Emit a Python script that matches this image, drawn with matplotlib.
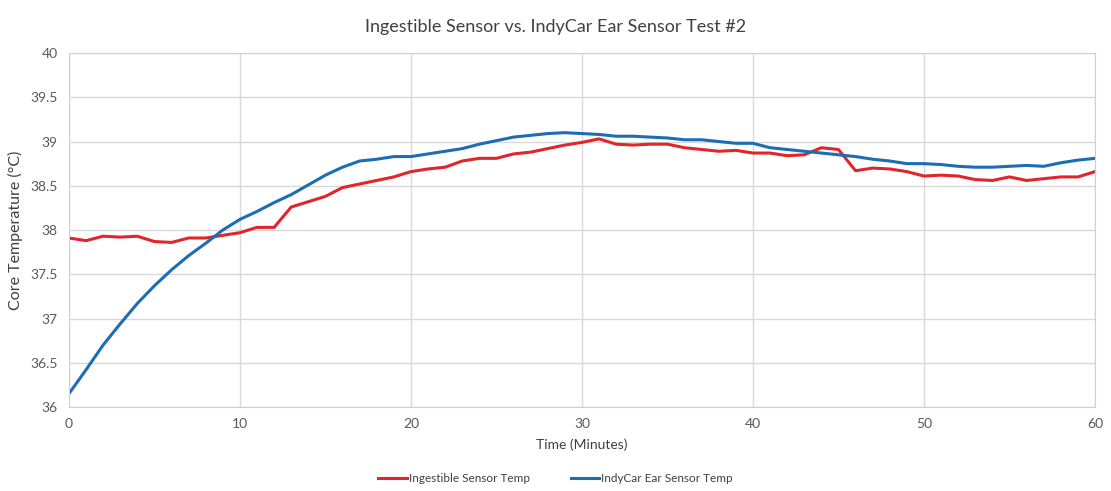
import numpy as np
import matplotlib.pyplot as plt

plt.rcParams['font.family'] = ['Lato', 'DejaVu Sans']

# data, one reading per minute
minutes = np.arange(0, 61)

ingestible = [37.91, 37.88, 37.93, 37.92, 37.93, 37.87, 37.86, 37.91, 37.91, 37.94,
              37.97, 38.03, 38.03, 38.26, 38.32, 38.38, 38.48, 38.52, 38.56, 38.60,
              38.66, 38.69, 38.71, 38.78, 38.81, 38.81, 38.86, 38.88, 38.92, 38.96,
              38.99, 39.03, 38.97, 38.96, 38.97, 38.97, 38.93, 38.91, 38.89, 38.90,
              38.87, 38.87, 38.84, 38.85, 38.93, 38.91, 38.67, 38.70, 38.69, 38.66,
              38.61, 38.62, 38.61, 38.57, 38.56, 38.60, 38.56, 38.58, 38.60, 38.60,
              38.66]

ear = [36.15, 36.42, 36.70, 36.94, 37.17, 37.37, 37.55, 37.71, 37.85, 38.00,
       38.12, 38.21, 38.31, 38.40, 38.51, 38.62, 38.71, 38.78, 38.80, 38.83,
       38.83, 38.86, 38.89, 38.92, 38.97, 39.01, 39.05, 39.07, 39.09, 39.10,
       39.09, 39.08, 39.06, 39.06, 39.05, 39.04, 39.02, 39.02, 39.00, 38.98,
       38.98, 38.93, 38.91, 38.89, 38.87, 38.85, 38.83, 38.80, 38.78, 38.75,
       38.75, 38.74, 38.72, 38.71, 38.71, 38.72, 38.73, 38.72, 38.76, 38.79,
       38.81]

xticks = [0, 10, 20, 30, 40, 50, 60]
yticks = [36, 36.5, 37, 37.5, 38, 38.5, 39, 39.5, 40]
ylabels = ['36', '36.5', '37', '37.5', '38', '38.5', '39', '39.5', '40']

fig = plt.figure(figsize=(11.11, 4.91), dpi=100)
ax = fig.add_axes([0.062, 0.171, 0.9236, 0.721])

ax.plot(minutes, ingestible, color='#e1262b', lw=2.2, label='Ingestible Sensor Temp')
ax.plot(minutes, ear, color='#1d6db4', lw=2.2, label='IndyCar Ear Sensor Temp')

ax.set_xlim(0, 60)
ax.set_ylim(36, 40)
ax.set_xticks(xticks)
ax.set_yticks(yticks)
ax.set_yticklabels(ylabels)
ax.grid(True, color='#d9d9d9', lw=1)
ax.set_axisbelow(True)
for s in ax.spines.values():
    s.set_color('#d0d0d0')
ax.tick_params(length=0, colors='#595959', labelsize=10, pad=8)

ax.set_xlabel('Time (Minutes)', fontsize=10, color='#404040', labelpad=6)
ax.set_ylabel('Core Temperature (°C)', fontsize=11.5, color='#404040', labelpad=5)
fig.suptitle('Ingestible Sensor vs. IndyCar Ear Sensor Test #2', fontsize=13,
             color='#404040', y=0.962)

fig.legend(loc='lower center', bbox_to_anchor=(0.5, -0.008), ncol=2, frameon=False,
           fontsize=8.5, handlelength=2.4, handletextpad=0.15, columnspacing=3.5,
           labelcolor='#404040')

plt.savefig('out.png', dpi=100)
